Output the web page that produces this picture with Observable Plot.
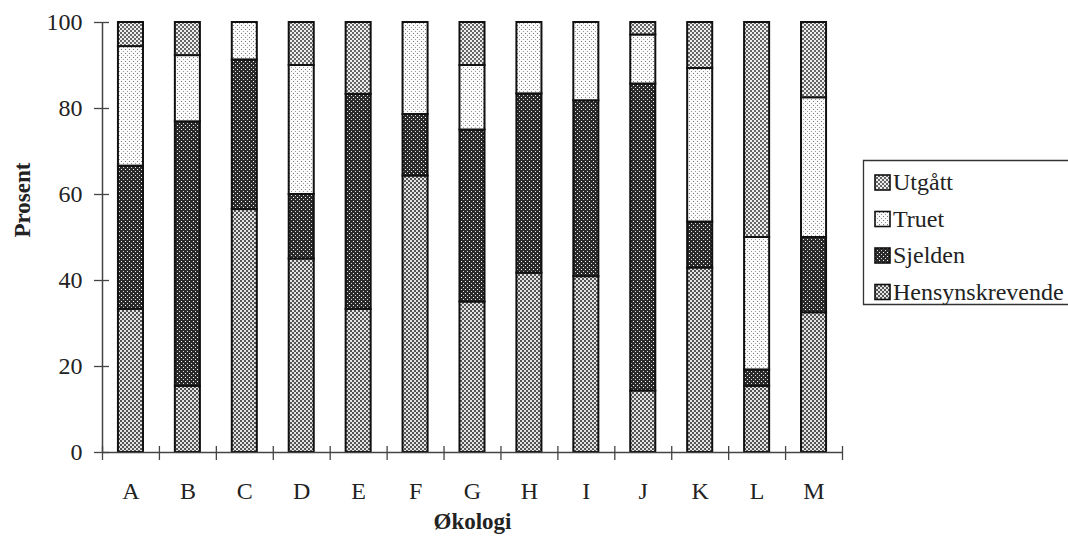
<!DOCTYPE html>
<html><head><meta charset="utf-8">
<script src="https://cdn.jsdelivr.net/npm/d3@7"></script>
<script src="https://cdn.jsdelivr.net/npm/@observablehq/plot@0.6"></script>
<style>
body{margin:0;background:#fff;}
#wrap{position:relative;width:1068px;height:545px;overflow:hidden;color:#222;}
#legend{position:absolute;left:862px;top:159px;}
</style></head>
<body>
<svg width="0" height="0" style="position:absolute">
  <defs>
    <pattern id="pH" width="4" height="4" patternUnits="userSpaceOnUse">
      <rect width="4" height="4" fill="#e4e4e4"/>
      <rect x="0" y="0" width="2" height="2" fill="#555"/>
      <rect x="2" y="2" width="2" height="2" fill="#555"/>
    </pattern>
    <pattern id="pS" width="4" height="4" patternUnits="userSpaceOnUse">
      <rect width="4" height="4" fill="#2a2a2a"/>
      <rect x="1" y="1" width="1" height="1" fill="#fff"/>
      <rect x="3" y="3" width="1" height="1" fill="#ddd"/>
    </pattern>
    <pattern id="pT" width="4" height="4" patternUnits="userSpaceOnUse">
      <rect width="4" height="4" fill="#fafafa"/>
      <rect x="1" y="1" width="1" height="1" fill="#777"/>
      <rect x="3" y="3" width="1" height="1" fill="#999"/>
    </pattern>
    <pattern id="pU" width="4" height="4" patternUnits="userSpaceOnUse">
      <rect width="4" height="4" fill="#eeeeee"/>
      <rect x="0" y="0" width="2" height="2" fill="#666"/>
      <rect x="2" y="2" width="2" height="2" fill="#666"/>
    </pattern>
  </defs>
</svg>
<div id="wrap">
  <div id="chart"></div>
  <div id="legend"></div>
</div>
<script>
const categories = ["A","B","C","D","E","F","G","H","I","J","K","L","M"];
const seriesNames = ["Hensynskrevende","Sjelden","Truet","Utgått"];
const hensynskrevende = [33.3, 15.4, 56.5, 45, 33.3, 64.3, 35, 41.7, 40.9, 14.3, 42.9, 15.4, 32.5];
const sjelden        = [33.3, 61.5, 34.8, 15, 50.0, 14.3, 40, 41.7, 40.9, 71.4, 10.7, 3.8, 17.5];
const truet          = [27.8, 15.4, 8.7, 30, 0, 21.4, 15, 16.6, 18.2, 11.4, 35.7, 30.8, 32.5];
const utgatt         = [5.6, 7.7, 0, 10, 16.7, 0, 10, 0, 0, 2.9, 10.7, 50, 17.5];
const yTicks = [0, 20, 40, 60, 80, 100];
const patterns = ["url(#pH)","url(#pS)","url(#pT)","url(#pU)"];

const seriesValues = [hensynskrevende, sjelden, truet, utgatt];
const rows = [];
categories.forEach((c, i) => {
  let acc = 0;
  seriesValues.forEach((vals, s) => {
    const v = vals[i];
    if (v > 0) rows.push({cat: c, i, s, y1: acc, y2: acc + v});
    acc += v;
  });
});

const barMarks = seriesNames.map((name, s) =>
  Plot.rect(rows.filter(r => r.s === s), {
    x1: d => d.i + 0.28, x2: d => d.i + 0.72, y1: "y1", y2: "y2",
    fill: patterns[s], stroke: "#111", strokeWidth: 2
  })
);

const chart = Plot.plot({
  width: 1068, height: 545,
  marginLeft: 102, marginRight: 226, marginTop: 22, marginBottom: 93,
  style: {fontFamily: "'Liberation Serif', serif", fontSize: "24px", color: "#333", background: "transparent"},
  x: {domain: [0, categories.length], axis: null},
  y: {domain: [0, 100], axis: null},
  marks: [
    ...barMarks,
    Plot.ruleX([0], {stroke: "#444", strokeWidth: 1.5}),
    Plot.ruleY([0], {stroke: "#444", strokeWidth: 1.5}),
    Plot.axisY(yTicks, {anchor: "left", tickSize: 15, dx: 7, text: null, stroke: "#444", strokeWidth: 1.3}),
    Plot.axisY(yTicks, {anchor: "left", tickSize: 0, tickPadding: 20, fontSize: 24, fill: "#222", label: null}),
    Plot.axisX(d3.range(categories.length + 1), {anchor: "bottom", tickSize: 14, dy: -6, text: null, stroke: "#444", strokeWidth: 1.3, label: null}),
    Plot.axisX(d3.range(categories.length).map(i => i + 0.5), {anchor: "bottom", tickSize: 0, tickPadding: 29, tickFormat: v => categories[Math.floor(v)], fontSize: 24, fill: "#222", label: null}),
    Plot.text(["Prosent"], {frameAnchor: "left", rotate: -90, dx: -80, fontWeight: "bold", fontSize: 23, fill: "#222"}),
    Plot.text(["Økologi"], {frameAnchor: "bottom", dy: 76, fontWeight: "bold", fontSize: 23, fill: "#222"})
  ]
});
document.getElementById("chart").appendChild(chart);

// legend as SVG (same serif font as the chart)
const lg = d3.select("#legend").append("svg")
  .attr("width", 1068 - 862).attr("height", 150)
  .style("font-family", "'Liberation Serif', serif").style("display", "block");
lg.append("path").attr("d", "M250,1.5 H1.5 V145.5 H250")
  .attr("fill", "#fff").attr("stroke", "#333").attr("stroke-width", 1.3);
[3, 2, 1, 0].forEach((s, k) => {
  const cy = 23 + k * 36.5;
  lg.append("rect").attr("x", 13).attr("y", cy - 7).attr("width", 15).attr("height", 15)
    .attr("fill", patterns[s]).attr("stroke", "#111").attr("stroke-width", 1.6);
  lg.append("text").attr("x", 31).attr("y", cy).attr("dy", "0.35em")
    .attr("font-size", 24).attr("fill", "#222").text(seriesNames[s]);
});
</script>
</body></html>
